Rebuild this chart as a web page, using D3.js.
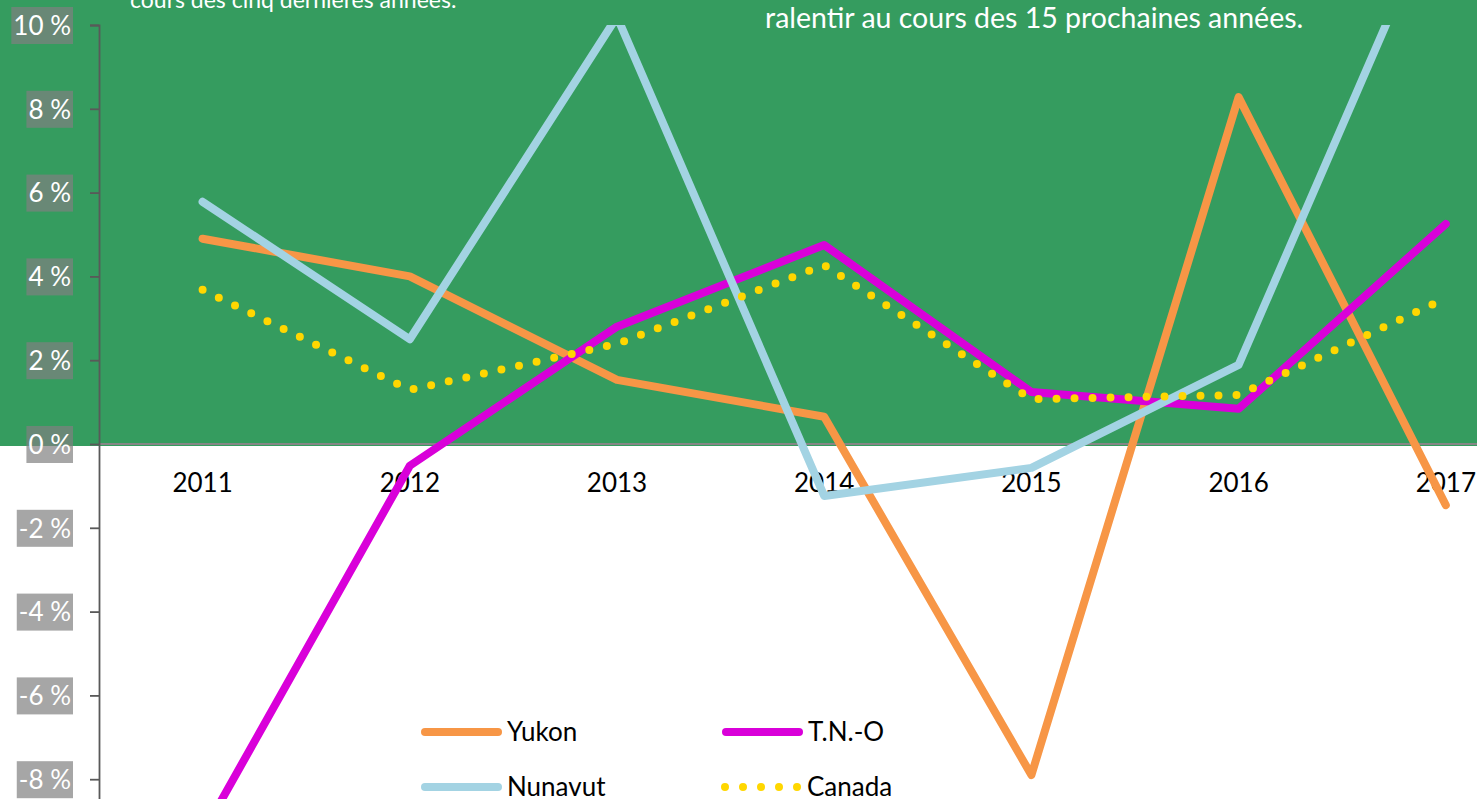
<!DOCTYPE html>
<html>
<head>
<meta charset="utf-8">
<script src="https://cdn.jsdelivr.net/npm/d3@7"></script>
<style>
  body { margin: 0; background: #fff; }
  text { font-family: Lato, "Noto Sans", sans-serif; }
</style>
</head>
<body>
<div id="chart"></div>
<script>
// values
var years = ["2011", "2012", "2013", "2014", "2015", "2016", "2017"];
var yukon = [4.9, 4.0, 1.53, 0.65, -7.9, 8.28, -1.46];
var tno = [-9.3, -0.52, 2.8, 4.75, 1.24, 0.84, 5.25];
var nunavut = [5.78, 2.5, 10.2, -1.24, -0.57, 1.89, 13.3];
var canada = [3.68, 1.29, 2.39, 4.27, 1.07, 1.17, 3.48];
var yTicks = [-10, -8, -6, -4, -2, 0, 2, 4, 6, 8, 10];
var titleLeft = "cours des cinq dernières années.";
var titleRight = "ralentir au cours des 15 prochaines années.";

var svgWidth = 1477;
var svgHeight = 799;

var svg = d3.select("#chart")
    .append("svg")
    .attr("width", svgWidth)
    .attr("height", svgHeight);

var xScale = d3.scaleBand()
    .domain(years)
    .range([99, 99 + 7 * 207.2]);

var yScale = d3.scaleLinear()
    .domain([-10, 10])
    .range([863, 25]);

var xc = d => xScale(d) + xScale.bandwidth() / 2;

// green band above zero
svg.append("rect")
    .attr("x", 0)
    .attr("y", 0)
    .attr("width", svgWidth)
    .attr("height", yScale(0) + 2)
    .attr("fill", "#359c5f");

// texts at the top (cut off by the crop)
svg.append("text")
    .attr("x", 130)
    .attr("y", 8)
    .attr("fill", "#fff")
    .attr("font-size", "23px")
    .text(titleLeft);
svg.append("text")
    .attr("x", 765)
    .attr("y", 28)
    .attr("fill", "#fff")
    .attr("font-size", "28.5px")
    .text(titleRight);

// zero line
svg.append("line")
    .attr("x1", 99)
    .attr("x2", svgWidth)
    .attr("y1", yScale(0))
    .attr("y2", yScale(0))
    .attr("stroke", "#868686")
    .attr("stroke-width", 2);

// y axis
var leftAxis = d3.axisLeft(yScale)
    .tickValues(yTicks)
    .tickSize(9)
    .tickFormat(d => d + " %");

var yAxisG = svg.append("g")
    .attr("transform", "translate(99,0)")
    .call(leftAxis);
yAxisG.select(".domain").attr("stroke", "#595959").attr("stroke-width", 1.8);
yAxisG.selectAll(".tick line").attr("stroke", "#595959").attr("stroke-width", 1.8);
yAxisG.selectAll(".tick text")
    .attr("x", -28)
    .attr("dy", "0.36em")
    .attr("fill", "#fff")
    .attr("font-size", "26px")
    .attr("font-family", "Lato, 'Noto Sans', sans-serif");

// grey boxes behind the tick labels
yAxisG.selectAll(".tick").each(function() {
    var t = d3.select(this).select("text");
    var bb = t.node().getBBox();
    d3.select(this).insert("rect", "text")
        .attr("x", bb.x - 2)
        .attr("y", -18.5)
        .attr("width", -26 - (bb.x - 2))
        .attr("height", 37)
        .attr("fill", "#808080")
        .attr("fill-opacity", 0.7);
});

// x labels just below zero line
var bottomAxis = d3.axisBottom(xScale).tickSize(0);
var xAxisG = svg.append("g")
    .attr("transform", `translate(0,${yScale(0)})`)
    .call(bottomAxis);
xAxisG.select(".domain").remove();
xAxisG.selectAll(".tick text")
    .attr("y", 48)
    .attr("dy", 0)
    .attr("fill", "#000")
    .attr("font-size", "26px")
    .attr("font-family", "Lato, 'Noto Sans', sans-serif");

// lines, clipped to the plot area
svg.append("clipPath")
    .attr("id", "plotClip")
    .append("rect")
    .attr("x", 99)
    .attr("y", yScale(10))
    .attr("width", svgWidth)
    .attr("height", svgHeight);

var plot = svg.append("g").attr("clip-path", "url(#plotClip)");

var line = d3.line()
    .x((d, i) => xc(years[i]))
    .y(d => yScale(d));

var series = [
    { name: "Yukon", values: yukon, color: "#f79646" },
    { name: "T.N.-O", values: tno, color: "#d900d9" },
    { name: "Nunavut", values: nunavut, color: "#a3d3e3" }
];

series.forEach(s => {
    plot.append("path")
        .datum(s.values)
        .attr("d", line)
        .attr("fill", "none")
        .attr("stroke", s.color)
        .attr("stroke-width", 8)
        .attr("stroke-linejoin", "round")
        .attr("stroke-linecap", "round");
});

plot.append("path")
    .datum(canada)
    .attr("d", line)
    .attr("fill", "none")
    .attr("stroke", "#ffd700")
    .attr("stroke-width", 8)
    .attr("stroke-dasharray", "0 18")
    .attr("stroke-linecap", "round");

// legend
var legend = [
    { name: "Yukon", color: "#f79646", x: 425, y: 732, dots: false },
    { name: "T.N.-O", color: "#d900d9", x: 726, y: 732, dots: false },
    { name: "Nunavut", color: "#a3d3e3", x: 425, y: 787, dots: false },
    { name: "Canada", color: "#ffd700", x: 725, y: 787, dots: true }
];

legend.forEach(l => {
    var ln = svg.append("line")
        .attr("x1", l.x)
        .attr("x2", l.dots ? l.x + 72.1 : l.x + 73)
        .attr("y1", l.y)
        .attr("y2", l.y)
        .attr("stroke", l.color)
        .attr("stroke-width", 8)
        .attr("stroke-linecap", "round");
    if (l.dots) ln.attr("stroke-dasharray", "0 18");
    svg.append("text")
        .attr("x", l.x + 82)
        .attr("y", l.y)
        .attr("dy", "0.36em")
        .attr("fill", "#000")
        .attr("font-size", "26px")
        .text(l.name);
});
</script>
</body>
</html>
